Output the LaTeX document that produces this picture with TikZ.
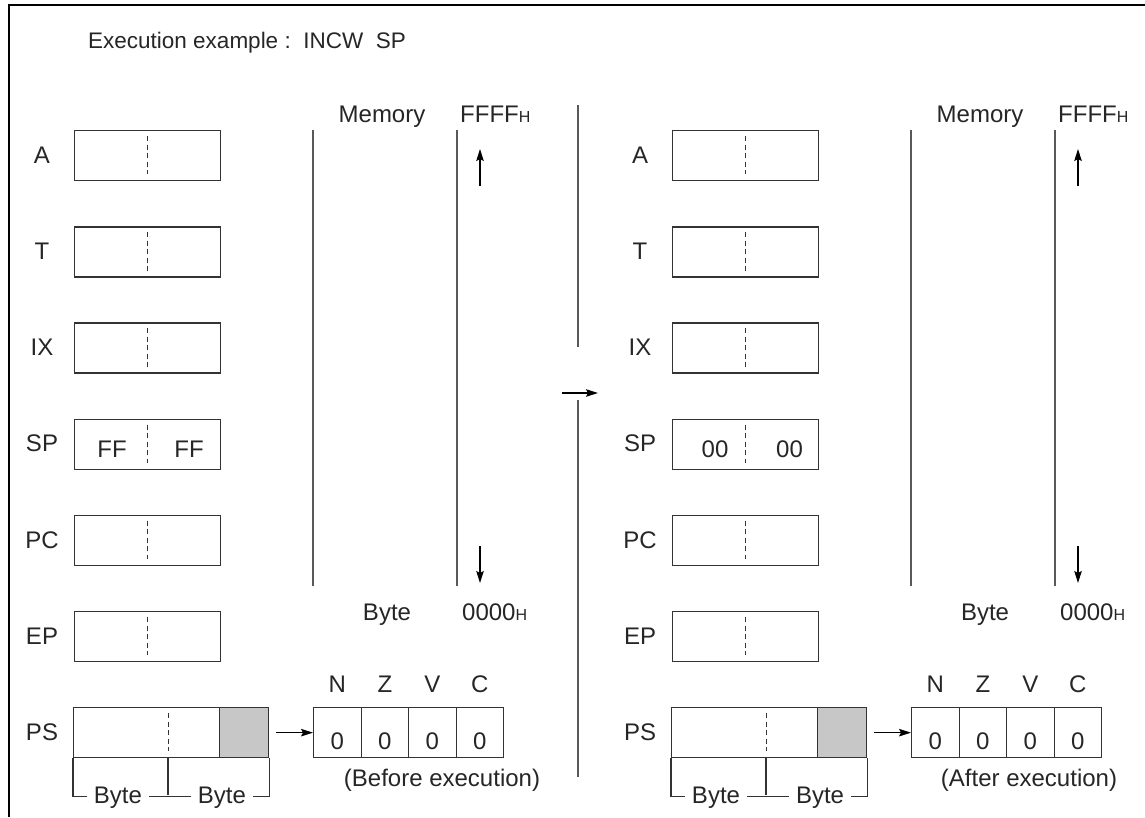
\documentclass[tikz,border=0pt]{standalone}
\usepackage{fontspec}
\setmainfont{Liberation Sans}
\usetikzlibrary{arrows.meta}
\newcommand\smallH{{\fontsize{16}{16}\selectfont H}}
\newcommand\drawside[8]{%
  % #1 x offset, #2 y offset, #3 suffix, #4 value1, #5 value2, #6 caption, #7 caption x, #8 value x shift
  \begin{scope}[shift={(#1,#2)}]
    \foreach \n/\y in {A/130,T/226.2,IX/322.4,SP/418.6,PC/514.8,EP/611} {
      \node[regbox] (\n#3) at (74,\y) {};
      \draw[regdash] ([yshift=-6pt]\n#3.north) -- ([yshift=7pt]\n#3.south);
      \node[txt] (\n#3l) at (42,\y+25) {\n};
    }
    \node[txt] (v1#3) at (112+#8,449.5) {#4};
    \node[txt] (v2#3) at (189+#8-#8/2,449.5) {#5};
    % PS register
    \node[regbox, minimum width=195pt] (PS#3) at (73,707) {};
    \node[regbox, fill=black!22, minimum width=49pt, anchor=north east] (PSg#3) at (PS#3.north east) {};
    \coordinate (d1#3) at (168,713); \coordinate (d2#3) at (168,751);
    \draw[regdash] (d1#3) -- (d2#3);
    \node[txt] (PSl#3) at (42,732) {PS};
    % byte bracket
    \draw[bracket] (PS#3.south west) -- ++(0,38) -| (PS#3.south east);
    \coordinate (bm#3) at (168,757); \coordinate (bn#3) at (168,795);
    \draw[bracket] (bm#3) -- (bn#3);
    \node[txt, anchor=base, fill=white, inner xsep=7pt, inner ysep=2pt] (b1#3) at (118,803) {Byte};
    \node[txt, anchor=base, fill=white, inner xsep=7pt, inner ysep=2pt] (b2#3) at (222,803) {Byte};
    % flags
    \foreach \i/\f in {0/N,1/Z,2/V,3/C} {
      \node[flagcell] (f\i#3) at (313+47.5*\i,707) {};
      \node[txt, anchor=base] (z\i#3) at ([yshift=-42pt]f\i#3.north) {0};
      \node[txt, anchor=base] (fl\i#3) at ([yshift=15pt]f\i#3.north) {\f};
    }
    \draw[arr] ([xshift=7pt]PS#3.east) -- (f0#3.west);
    \node[txt, anchor=base] (cap#3) at (#7,786) {#6};
    % memory
    \coordinate (m1t#3) at (313,130); \coordinate (m1b#3) at (313,586);
    \coordinate (m2t#3) at (457,130); \coordinate (m2b#3) at (457,586);
    \draw[memline] (m1t#3) -- (m1b#3);
    \draw[memline] (m2t#3) -- (m2b#3);
    \coordinate (ua#3) at (480,186); \coordinate (ub#3) at (480,149);
    \coordinate (da#3) at (480,546); \coordinate (db#3) at (480,583);
    \draw[arr] (ua#3) -- (ub#3);
    \draw[arr] (da#3) -- (db#3);
    \node[txt, anchor=base] (mem#3) at (382,122) {Memory};
    \node[txt, anchor=base west] (ff#3) at (460,122) {FFFF\smallH};
    \node[txt, anchor=base] (by#3) at (387,620) {Byte};
    \node[txt, anchor=base west] (zz#3) at (462,620) {0000\smallH};
  \end{scope}
}
\begin{document}
\begin{tikzpicture}[x=1pt,y=-1pt,
  txt/.style={font=\fontsize{24}{24}\selectfont, inner sep=0pt, text=black!85},
  regbox/.style={draw=black!80, line width=1.3pt, minimum width=146pt, minimum height=50pt, inner sep=0pt, anchor=north west},
  regdash/.style={draw=black!80, line width=1pt, dash pattern=on 5pt off 3.5pt},
  flagcell/.style={draw=black!80, line width=1.3pt, minimum width=47.5pt, minimum height=50pt, inner sep=0pt, anchor=north west},
  bracket/.style={draw=black!80, line width=1.2pt},
  memline/.style={draw=black!65, line width=2pt},
  arr/.style={draw=black, line width=1.2pt, -{Stealth[length=12pt,width=7.5pt,inset=2pt]}}
]
\useasboundingbox (0,0) rectangle (1145,817);
\fill[white] (0,0) rectangle (1145,817);
\draw[line width=2.8pt] (9,817) -- (9,5) -- (1145,5);
\node[txt, anchor=base west, font=\fontsize{22.5}{22.5}\selectfont] (title) at (88,48) {Execution example :\ \ INCW\ \ SP};
\drawside{0}{0}{L}{FF}{FF}{(Before execution)}{442}{0}
\drawside{598}{0}{R}{00}{00}{(After execution)}{431}{5}
% center divider and arrow
\coordinate (c1) at (578,105); \coordinate (c2) at (578,347);
\coordinate (c3) at (578,400); \coordinate (c4) at (578,777);
\draw[memline] (c1) -- (c2);
\draw[memline] (c3) -- (c4);
\coordinate (ca) at (562,393); \coordinate (cb) at (598,393);
\draw[arr] (ca) -- (cb);
\end{tikzpicture}
\end{document}
